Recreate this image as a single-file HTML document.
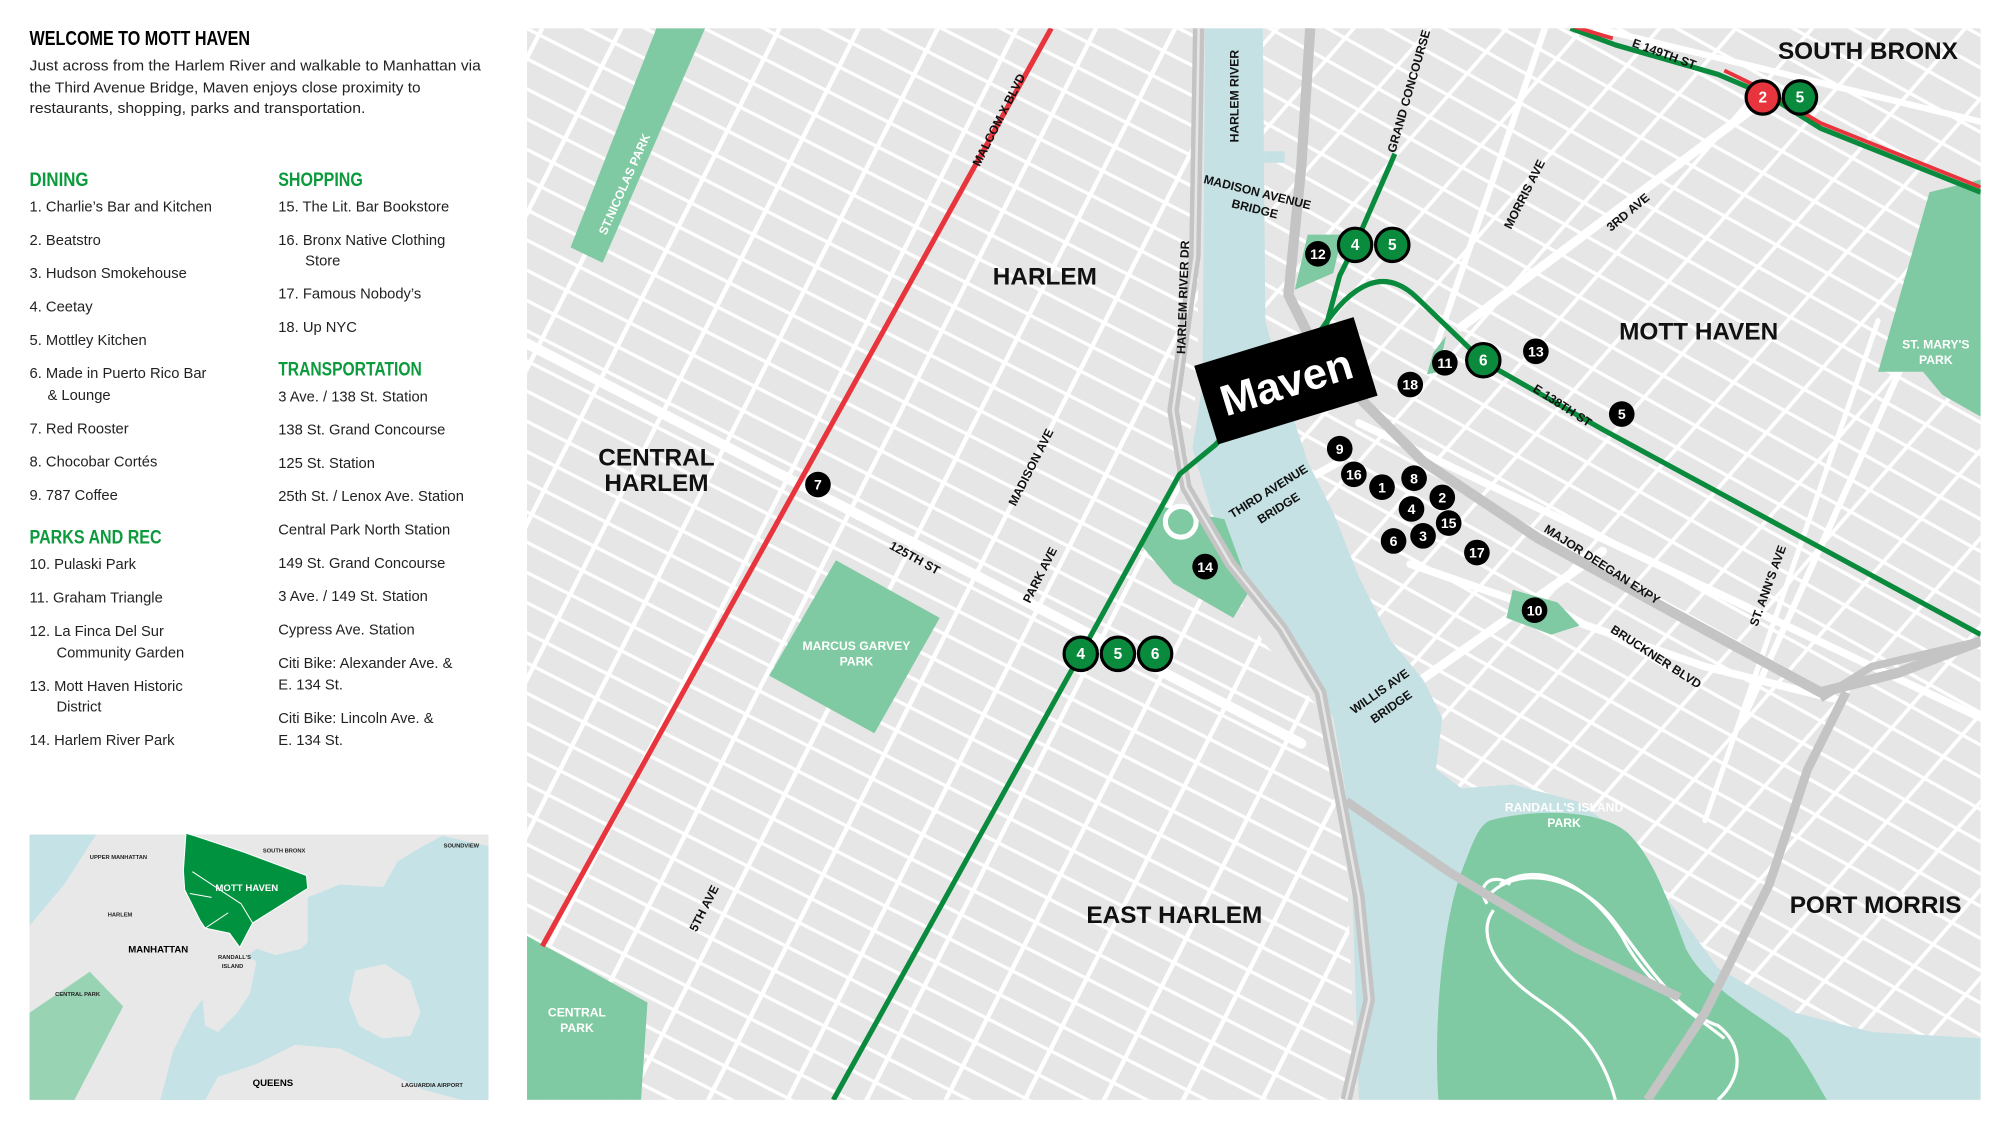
<!DOCTYPE html>
<html><head><meta charset="utf-8"><style>
html,body{margin:0;padding:0;background:#fff;}
svg{display:block;}
.t{font-family:"Liberation Sans",sans-serif;}
</style></head><body>
<svg width="2000" height="1123" viewBox="0 0 1560 876" xmlns="http://www.w3.org/2000/svg" class="t">
<defs>
<pattern id="man" width="55" height="21" patternUnits="userSpaceOnUse" patternTransform="rotate(27)">
<rect width="55" height="21" fill="#e6e6e6"/>
<rect x="0" y="0" width="55" height="2.6" fill="#fff"/>
<rect x="0" y="0" width="3.5" height="21" fill="#fff"/>
</pattern>
<pattern id="brx" width="46" height="22" patternUnits="userSpaceOnUse" patternTransform="rotate(29) skewX(-12)">
<rect width="46" height="22" fill="#e6e6e6"/>
<rect x="0" y="0" width="46" height="2.6" fill="#fff"/>
<rect x="0" y="0" width="3" height="22" fill="#fff"/>
</pattern>
<clipPath id="mapclip"><rect x="411" y="22" width="1134" height="836"/></clipPath>
<clipPath id="manclip"><polygon points="411,22 936,22 934,300 925,360 945,430 985,500 1035,560 1048,620 1058,858 411,858"/></clipPath>
<clipPath id="brxclip"><polygon points="985,22 1545,22 1545,810 1460,805 1400,790 1340,755 1300,700 1265,650 1230,625 1180,612 1140,615 1120,600 1125,560 1110,530 1085,500 1060,450 1040,400 1020,360 1000,300 987,250"/></clipPath>
</defs>

<!-- LEFT PANEL -->
<text x="23" y="35" font-size="15.5" font-weight="bold" textLength="172" lengthAdjust="spacingAndGlyphs">WELCOME TO MOTT HAVEN</text>
<g font-size="11.5" fill="#222">
<text x="23" y="55" textLength="352" lengthAdjust="spacingAndGlyphs">Just across from the Harlem River and walkable to Manhattan via</text>
<text x="23" y="72" textLength="305" lengthAdjust="spacingAndGlyphs">the Third Avenue Bridge, Maven enjoys close proximity to</text>
<text x="23" y="88" textLength="262" lengthAdjust="spacingAndGlyphs">restaurants, shopping, parks and transportation.</text>
</g>
<g font-size="15" font-weight="bold" fill="#0b9a3c">
<text x="23" y="145" textLength="46" lengthAdjust="spacingAndGlyphs">DINING</text>
<text x="217" y="145" textLength="66" lengthAdjust="spacingAndGlyphs">SHOPPING</text>
<text x="217" y="293" textLength="112" lengthAdjust="spacingAndGlyphs">TRANSPORTATION</text>
<text x="23" y="424" textLength="103" lengthAdjust="spacingAndGlyphs">PARKS AND REC</text>
</g>
<g font-size="11.5" fill="#222">
<text x="23" y="165">1. Charlie’s Bar and Kitchen</text>
<text x="23" y="191">2. Beatstro</text>
<text x="23" y="217">3. Hudson Smokehouse</text>
<text x="23" y="243">4. Ceetay</text>
<text x="23" y="269">5. Mottley Kitchen</text>
<text x="23" y="295">6. Made in Puerto Rico Bar</text>
<text x="37" y="312">&amp; Lounge</text>
<text x="23" y="338">7. Red Rooster</text>
<text x="23" y="364">8. Chocobar Cortés</text>
<text x="23" y="390">9. 787 Coffee</text>
<text x="23" y="444">10. Pulaski Park</text>
<text x="23" y="470">11. Graham Triangle</text>
<text x="23" y="496">12. La Finca Del Sur</text>
<text x="44" y="513">Community Garden</text>
<text x="23" y="539">13. Mott Haven Historic</text>
<text x="44" y="555">District</text>
<text x="23" y="581">14. Harlem River Park</text>
<text x="217" y="165">15. The Lit. Bar Bookstore</text>
<text x="217" y="191">16. Bronx Native Clothing</text>
<text x="238" y="207">Store</text>
<text x="217" y="233">17. Famous Nobody’s</text>
<text x="217" y="259">18. Up NYC</text>
<text x="217" y="313">3 Ave. / 138 St. Station</text>
<text x="217" y="339">138 St. Grand Concourse</text>
<text x="217" y="365">125 St. Station</text>
<text x="217" y="391">25th St. / Lenox Ave. Station</text>
<text x="217" y="417">Central Park North Station</text>
<text x="217" y="443">149 St. Grand Concourse</text>
<text x="217" y="469">3 Ave. / 149 St. Station</text>
<text x="217" y="495">Cypress Ave. Station</text>
<text x="217" y="521">Citi Bike: Alexander Ave. &amp;</text>
<text x="217" y="538">E. 134 St.</text>
<text x="217" y="564">Citi Bike: Lincoln Ave. &amp;</text>
<text x="217" y="581">E. 134 St.</text>
</g>

<!-- INSET -->
<g>
<rect x="23" y="651" width="358" height="207" fill="#c5e2e6"/>
<polygon points="23,722 50,690 75,651 381,651 381,660 345,652 330,660 310,672 300,690 290,705 265,712 250,725 235,740 215,745 200,740 190,748 175,755 165,770 150,790 135,820 125,858 23,858" fill="#e8e8e8"/>
<polygon points="240,700 265,690 300,692 320,700 320,720 300,735 270,745 240,740" fill="#c5e2e6"/>
<polygon points="170,745 185,742 200,750 195,775 185,790 170,805 160,800 158,780 165,760" fill="#e8e8e8"/>
<polygon points="160,858 170,840 200,830 230,815 265,818 300,835 330,850 360,858" fill="#e8e8e8"/>
<polygon points="277,757 300,752 320,765 328,790 320,808 298,810 280,800 272,780" fill="#e8e8e8"/>
<polygon points="23,858 23,790 70,758 96,785 58,858" fill="#98d4b4"/>
<polygon points="145,650 152,652 191,665 239,683 240,693 197,720 187,739 179,728 160,724 156,718 144,694 143,679" fill="#00923f" stroke="#fff" stroke-width="0.8"/>
<path d="M150,680 L188,705 L197,720 M148,697 L165,700 M160,724 L178,712" stroke="#fff" stroke-width="0.8" fill="none"/>
<g font-size="4.5" font-weight="bold" fill="#222">
<text x="70" y="670">UPPER MANHATTAN</text><text x="205" y="665">SOUTH BRONX</text><text x="346" y="661">SOUNDVIEW</text>
<text x="84" y="715">HARLEM</text><text x="43" y="777">CENTRAL PARK</text><text x="170" y="748">RANDALL'S</text><text x="173" y="755">ISLAND</text>
<text x="313" y="848">LAGUARDIA AIRPORT</text>
</g>
<text x="100" y="743" font-size="7.5" font-weight="bold">MANHATTAN</text>
<text x="197" y="847" font-size="7.5" font-weight="bold">QUEENS</text>
<text x="168" y="695" font-size="7.5" font-weight="bold" fill="#fff">MOTT HAVEN</text>
</g>

<!-- MAP -->
<g clip-path="url(#mapclip)">
<rect x="411" y="22" width="1134" height="836" fill="#e6e6e6"/>
<rect x="411" y="22" width="1134" height="836" fill="url(#man)" clip-path="url(#manclip)"/>
<rect x="411" y="22" width="1134" height="836" fill="url(#brx)" clip-path="url(#brxclip)"/>
<g stroke="#fff" fill="none" stroke-linecap="round">
<path d="M411,268 L1015,580" stroke-width="8"/>
<path d="M1050,572 L1250,430" stroke-width="7"/>
<path d="M1140,255 L1380,75" stroke-width="7"/>
<path d="M1060,330 L1545,560" stroke-width="6"/>
<path d="M1245,22 L1545,95" stroke-width="5"/>
<path d="M1205,22 L1120,270" stroke-width="5"/>
<path d="M1100,440 L1330,520 L1430,545" stroke-width="6"/>
<path d="M1540,160 L1360,560" stroke-width="5"/>
<path d="M1465,250 L1330,640" stroke-width="4"/>
<path d="M945,405 L1000,385 L1045,360" stroke-width="6"/>
</g>
<polygon fill="#c5e1e3" points="940,22 985,22 987,250 1000,300 1020,360 1040,400 1060,450 1085,500 1110,530 1125,560 1120,600 1140,615 1180,612 1230,625 1265,650 1300,700 1340,755 1400,790 1460,805 1545,810 1545,858 1060,858 1055,700 1050,620 1040,560 1010,510 975,460 945,400 930,350 938,300"/>
<rect x="986" y="118" width="16" height="9" fill="#c5e1e3"/>
<path fill="#7fcaa2" d="M1162,640 C1200,630 1250,632 1270,650 C1290,670 1300,700 1315,740 C1330,770 1370,790 1395,810 C1410,830 1420,850 1425,858 L1122,858 C1118,800 1125,720 1140,680 C1148,660 1152,645 1162,640 Z"/>
<g stroke="#fff" stroke-width="2.5" fill="none">
<path d="M1160,700 C1180,675 1230,680 1260,720 C1290,760 1310,790 1340,800 C1360,815 1360,840 1340,858"/>
<path d="M1165,710 C1150,730 1170,760 1200,780 C1230,800 1250,820 1260,858"/>
<path d="M1170,690 C1200,670 1240,690 1265,730 C1285,770 1320,790 1345,810"/>
<path d="M1160,705 C1150,690 1165,680 1178,690"/>
</g>
<g fill="#7fcaa2">
<polygon points="512,22 550,22 470,205 445,193"/>
<polygon points="652,437 733,482 682,572 600,527"/>
<polygon points="411,730 505,782 500,858 411,858"/>
<polygon points="905,395 955,405 975,460 962,482 915,455 890,425"/>
<polygon points="1020,183 1047,183 1040,213 1010,226"/>
<polygon points="1505,150 1545,140 1545,325 1515,308 1500,290 1465,290"/>
<polygon points="1180,460 1215,470 1232,488 1210,495 1175,482"/>
<polygon points="1118,275 1128,262 1122,290 1113,292"/>
</g>
<circle cx="921" cy="407" r="12" fill="#7fcaa2" stroke="#fff" stroke-width="4"/>
<g stroke="#c4c4c4" fill="none" stroke-linejoin="round">
<path d="M935,22 L932,200 L915,320 L925,380 L960,440 L1000,490 L1030,540 L1045,620 L1060,700 L1068,780 L1050,858" stroke-width="9"/>
<path d="M935,22 L932,200 L915,320 L925,380 L960,440 L1000,490 L1030,540 L1045,620 L1060,700 L1068,780 L1050,858" stroke="#e6e6e6" stroke-width="2"/>
<path d="M1022,22 L1015,130 L1005,230 L1020,260 L1060,310 L1110,360 L1200,420 L1300,475 L1420,540 L1480,525 L1545,500" stroke-width="8"/>
<path d="M1440,540 L1410,600 L1380,690 L1330,790 L1285,858" stroke-width="7"/>
<path d="M1050,625 L1130,680 L1230,740 L1310,778" stroke-width="7"/>
<path d="M1420,545 L1460,520 L1545,500" stroke-width="6"/>
</g>
<path d="M423,738 L820,22" stroke="#e8343c" stroke-width="4" fill="none"/>
<g stroke="#0a8a3c" stroke-width="4" fill="none" stroke-linejoin="round">
<path d="M650,858 L843,510 L920,370 L948,347 L1035,252 L1045,215 L1057,191 L1088,120"/>
<path d="M1030,258 C1055,220 1080,208 1105,232 L1157,282 L1250,335 L1545,495"/>
<path d="M1225,22 L1260,35 L1340,58 L1380,75 L1420,100 L1545,150"/>
</g>
<path d="M1225,20 L1258,30 M1345,55 L1380,72 L1420,96 L1545,146" stroke="#e8343c" stroke-width="3" fill="none"/>

<g transform="translate(1003,297) rotate(-17)">
<rect x="-65" y="-32" width="130" height="64" fill="#000"/>
<text x="0" y="13" font-size="34" font-weight="bold" fill="#fff" text-anchor="middle">Maven</text>
</g>

<g font-weight="bold" font-size="19" fill="#111" text-anchor="middle">
<text x="815" y="222">HARLEM</text>
<text x="512" y="363">CENTRAL</text><text x="512" y="383">HARLEM</text>
<text x="1325" y="265">MOTT HAVEN</text>
<text x="1457" y="46">SOUTH BRONX</text>
<text x="916" y="720">EAST HARLEM</text>
<text x="1463" y="712">PORT MORRIS</text>
</g>
<g font-weight="bold" font-size="9.5" fill="#fff" text-anchor="middle">
<text x="668" y="507">MARCUS GARVEY</text><text x="668" y="519">PARK</text>
<text x="1220" y="633">RANDALL'S ISLAND</text><text x="1220" y="645">PARK</text>
<text x="450" y="793">CENTRAL</text><text x="450" y="805">PARK</text>
<text x="1510" y="272">ST. MARY'S</text><text x="1510" y="284">PARK</text>
<text transform="translate(490,145) rotate(-66)">ST.NICOLAS PARK</text>
</g>
<g font-weight="bold" font-size="9.5" fill="#111" text-anchor="middle">
<text transform="translate(782,95) rotate(-63)">MALCOM X BLVD</text>
<text transform="translate(712,438) rotate(29)">125TH ST</text>
<text transform="translate(807,366) rotate(-63)">MADISON AVE</text>
<text transform="translate(814,450) rotate(-63)">PARK AVE</text>
<text transform="translate(552,710) rotate(-63)">5TH AVE</text>
<text transform="translate(926,232) rotate(-88)">HARLEM RIVER DR</text>
<text transform="translate(966,75) rotate(-90)">HARLEM RIVER</text>
<text transform="translate(1102,72) rotate(-74)">GRAND CONCOURSE</text>
<text transform="translate(980,153) rotate(14)">MADISON AVENUE</text>
<text transform="translate(978,166) rotate(14)">BRIDGE</text>
<text transform="translate(1192,153) rotate(-63)">MORRIS AVE</text>
<text transform="translate(1272,168) rotate(-40)">3RD AVE</text>
<text transform="translate(1297,45) rotate(20)">E 149TH ST</text>
<text transform="translate(1217,319) rotate(33)">E 138TH ST</text>
<text transform="translate(991,386) rotate(-32)">THIRD AVENUE</text>
<text transform="translate(999,399) rotate(-32)">BRIDGE</text>
<text transform="translate(1248,443) rotate(33)">MAJOR DEEGAN EXPY</text>
<text transform="translate(1290,515) rotate(33)">BRUCKNER BLVD</text>
<text transform="translate(1382,458) rotate(-70)">ST. ANN'S AVE</text>
<text transform="translate(1078,542) rotate(-35)">WILLIS AVE</text>
<text transform="translate(1087,554) rotate(-35)">BRIDGE</text>
</g>

<g stroke="#000" stroke-width="2.5" fill="#0a8a3c">
<circle cx="1057" cy="191" r="13"/><circle cx="1086" cy="191" r="13"/>
<circle cx="1157" cy="281" r="13"/>
<circle cx="843" cy="510" r="13"/><circle cx="872" cy="510" r="13"/><circle cx="901" cy="510" r="13"/>
<circle cx="1404" cy="76" r="13"/>
<circle cx="1375" cy="76" r="13" fill="#e8343c"/>
</g>
<g fill="#000">
<circle cx="1028" cy="198" r="10"/><circle cx="1127" cy="283" r="10"/><circle cx="1198" cy="274" r="10"/>
<circle cx="1100" cy="300" r="10"/><circle cx="1265" cy="323" r="10"/><circle cx="1045" cy="350" r="10"/>
<circle cx="1056" cy="370" r="10"/><circle cx="1078" cy="380" r="10"/><circle cx="1103" cy="373" r="10"/>
<circle cx="1125" cy="388" r="10"/><circle cx="1101" cy="397" r="10"/><circle cx="1130" cy="408" r="10"/>
<circle cx="1110" cy="418" r="10"/><circle cx="1087" cy="422" r="10"/><circle cx="1152" cy="431" r="10"/>
<circle cx="940" cy="442" r="10"/><circle cx="1197" cy="476" r="10"/><circle cx="638" cy="378" r="10"/>
</g>
<g font-weight="bold" font-size="12" fill="#fff" text-anchor="middle">
<text x="1057" y="195">4</text><text x="1086" y="195">5</text><text x="1157" y="285">6</text>
<text x="843" y="514">4</text><text x="872" y="514">5</text><text x="901" y="514">6</text>
<text x="1404" y="80">5</text><text x="1375" y="80">2</text>
</g>
<g font-weight="bold" font-size="11" fill="#fff" text-anchor="middle">
<text x="1028" y="202">12</text><text x="1127" y="287">11</text><text x="1198" y="278">13</text>
<text x="1100" y="304">18</text><text x="1265" y="327">5</text><text x="1045" y="354">9</text>
<text x="1056" y="374">16</text><text x="1078" y="384">1</text><text x="1103" y="377">8</text>
<text x="1125" y="392">2</text><text x="1101" y="401">4</text><text x="1130" y="412">15</text>
<text x="1110" y="422">3</text><text x="1087" y="426">6</text><text x="1152" y="435">17</text>
<text x="940" y="446">14</text><text x="1197" y="480">10</text><text x="638" y="382">7</text>
</g>
</g>
</svg>
</body></html>
